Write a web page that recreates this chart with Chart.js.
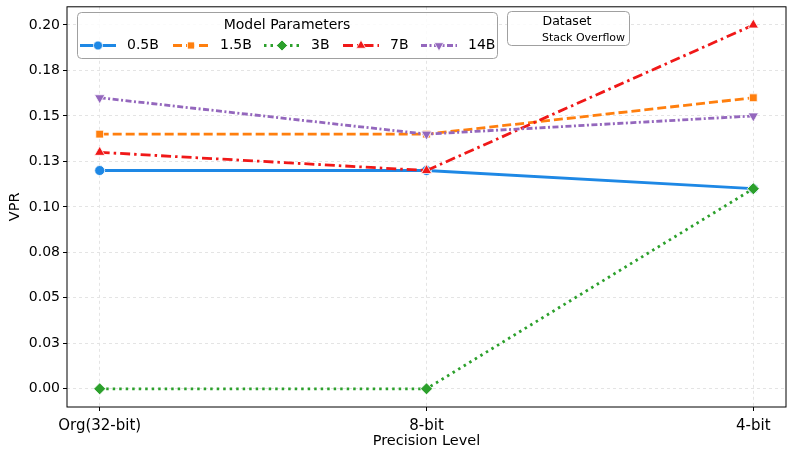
<!DOCTYPE html>
<html>
<head>
<meta charset="utf-8">
<script src="https://cdn.jsdelivr.net/npm/chart.js@4"></script>
<style>
  html, body { margin: 0; padding: 0; background: #fff; }
  #wrap { width: 793px; height: 459px; }
</style>
</head>
<body>
<div id="wrap"><canvas id="grafico"></canvas></div>
<script>
// dados
const niveis = ['Org(32-bit)', '8-bit', '4-bit'];
const yTicks = [0, 0.025, 0.05, 0.075, 0.1, 0.125, 0.15, 0.175, 0.2];
const yTickLabels = ['0.00', '0.03', '0.05', '0.08', '0.10', '0.13', '0.15', '0.18', '0.20'];

const vpr05B = [0.12, 0.12, 0.11];
const vpr15B = [0.14, 0.14, 0.16];
const vpr3B = [0.00, 0.00, 0.11];
const vpr7B = [0.13, 0.12, 0.20];
const vpr14B = [0.16, 0.14, 0.15];

const fonte = "'DejaVu Sans', sans-serif";

function pontos(valores) {
    return valores.map((v, i) => ({ x: i, y: v }));
}

function serie(label, valores, cor, dash, estilo, raio, ordem, rot) {
    return {
        label: label,
        data: pontos(valores),
        order: ordem, // series seguintes ficam por cima
        borderColor: cor,
        backgroundColor: cor,
        borderWidth: 2.8,
        borderDash: dash,
        pointStyle: estilo,
        pointRotation: rot || 0,
        pointRadius: raio,
        pointBorderColor: '#fff',
        pointBorderWidth: 0.8,
        fill: false,
        tension: 0
    };
}

const series = [
    serie('0.5B', vpr05B, '#1e88e5', [], 'circle', 5, 5),
    serie('1.5B', vpr15B, '#ff7f0e', [9, 4], 'rect', 5.5, 4),
    serie('3B', vpr3B, '#2ca02c', [2.5, 4], 'rectRot', 6, 3),
    serie('7B', vpr7B, '#f01818', [10, 4, 2.5, 4], 'triangle', 6, 2),
    serie('14B', vpr14B, '#9467bd', [6, 2.5, 2, 2.5], 'triangle', 6, 1, 180)
];

// legenda e moldura desenhadas a mao
const legendaPlugin = {
    id: 'legendaManual',
    afterDraw(chart) {
        const ctx = chart.ctx;
        const area = chart.chartArea;
        ctx.save();
        // moldura do grafico
        ctx.strokeStyle = '#000';
        ctx.lineWidth = 1;
        ctx.setLineDash([]);
        ctx.strokeRect(area.left, area.top, area.right - area.left, area.bottom - area.top);

        function caixa(x, y, w, h) {
            ctx.beginPath();
            ctx.roundRect(x, y, w, h, 4);
            ctx.fillStyle = 'rgba(255,255,255,0.85)';
            ctx.fill();
            ctx.strokeStyle = '#a0a0a0';
            ctx.lineWidth = 1;
            ctx.stroke();
        }

        caixa(77.5, 12.5, 420, 46);
        ctx.fillStyle = '#000';
        ctx.font = '14px ' + fonte;
        ctx.textAlign = 'center';
        ctx.textBaseline = 'middle';
        ctx.fillText('Model Parameters', 287, 25);

        const posX = [80, 173, 264, 343, 421];
        const yItem = 45.5;
        chart.data.datasets.forEach((ds, i) => {
            const x0 = posX[i];
            ctx.beginPath();
            ctx.setLineDash(ds.borderDash);
            ctx.strokeStyle = ds.borderColor;
            ctx.lineWidth = ds.borderWidth;
            ctx.moveTo(x0, yItem);
            ctx.lineTo(x0 + 36, yItem);
            ctx.stroke();
            ctx.setLineDash([]);
            ctx.fillStyle = ds.backgroundColor;
            ctx.strokeStyle = '#fff';
            ctx.lineWidth = 0.8;
            Chart.helpers.drawPoint(ctx, {
                pointStyle: ds.pointStyle,
                rotation: ds.pointRotation,
                radius: ds.pointRadius - 0.5,
                borderWidth: 0.8
            }, x0 + 18, yItem);
            ctx.fillStyle = '#000';
            ctx.textAlign = 'left';
            ctx.font = '14px ' + fonte;
            ctx.fillText(ds.label, x0 + 47, yItem);
        });

        caixa(507.5, 11.5, 122, 34);
        ctx.fillStyle = '#000';
        ctx.textAlign = 'center';
        ctx.font = '12.5px ' + fonte;
        ctx.fillText('Dataset', 567, 22);
        ctx.textAlign = 'left';
        ctx.font = '11px ' + fonte;
        ctx.fillText('Stack Overflow', 542, 38);
        ctx.restore();
    }
};

new Chart(document.getElementById('grafico'), {
    type: 'line',
    data: { datasets: series },
    options: {
        responsive: true,
        maintainAspectRatio: false,
        animation: false,
        layout: { padding: { left: 7, right: 7, top: 6, bottom: 9 } },
        plugins: {
            legend: { display: false },
            tooltip: { enabled: false }
        },
        scales: {
            x: {
                type: 'linear',
                min: -0.1,
                max: 2.1,
                afterBuildTicks: (scale) => {
                    scale.ticks = niveis.map((n, i) => ({ value: i }));
                },
                afterFit: (scale) => {
                    scale.height = 43;
                    scale.paddingLeft = 0;
                    scale.paddingRight = 0;
                },
                ticks: {
                    callback: (v) => niveis[v],
                    color: '#000',
                    font: { family: fonte, size: 15 },
                    padding: 6,
                    maxRotation: 0
                },
                grid: {
                    color: '#e4e4e4',
                    tickColor: '#000',
                    tickLength: 4,
                    tickBorderDash: []
                },
                border: { display: false, dash: [3, 3] },
                title: {
                    display: true,
                    text: 'Precision Level',
                    color: '#000',
                    font: { family: fonte, size: 14.5 },
                    padding: { top: 0, bottom: 0 }
                }
            },
            y: {
                min: -0.01,
                max: 0.21,
                afterBuildTicks: (scale) => {
                    scale.ticks = yTicks.map(v => ({ value: v }));
                },
                afterFit: (scale) => {
                    scale.width = 60;
                    scale.paddingTop = 0;
                    scale.paddingBottom = 0;
                },
                ticks: {
                    callback: (v, i) => yTickLabels[i],
                    color: '#000',
                    font: { family: fonte, size: 14 },
                    padding: 3
                },
                grid: {
                    color: '#e4e4e4',
                    tickColor: '#000',
                    tickLength: 4,
                    tickBorderDash: []
                },
                border: { display: false, dash: [3, 3] },
                title: {
                    display: true,
                    text: 'VPR',
                    color: '#000',
                    font: { family: fonte, size: 14.5 },
                    padding: { top: 0, bottom: 4 }
                }
            }
        }
    },
    plugins: [legendaPlugin]
});
</script>
</body>
</html>
